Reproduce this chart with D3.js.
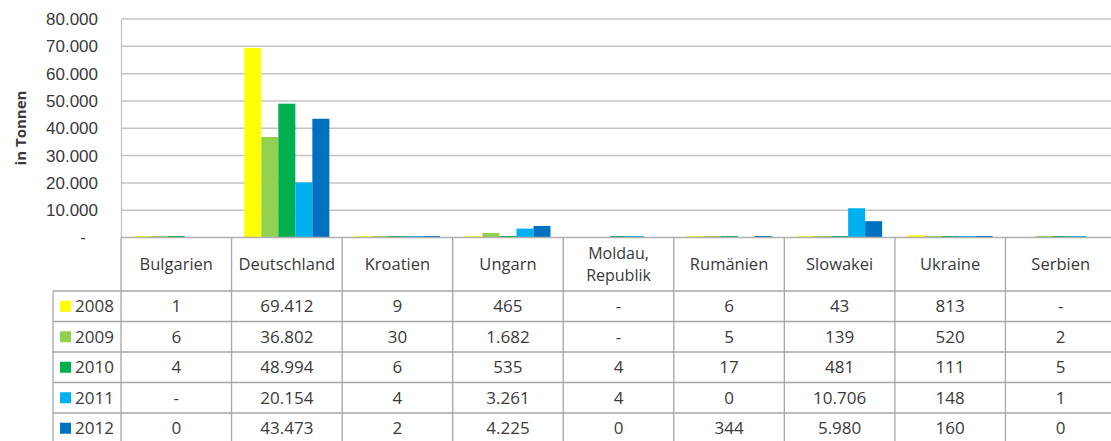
<!DOCTYPE html>
<html>
<head>
<meta charset="utf-8">
<script src="https://cdn.jsdelivr.net/npm/d3@7"></script>
<style>
  body { margin: 0; background: #fff; }
  svg { display: block; font-family: "Open Sans", sans-serif; }
  .grid line { stroke: #c4c4c4; stroke-width: 1.5; }
  .tbl line { stroke: #a6a6a6; stroke-width: 1.3; }
  text { fill: #3a3a3a; }
</style>
</head>
<body>
<svg id="chart" width="1111" height="441"></svg>
<script>
// Exporte nach Ländern, in Tonnen
var countries = ["Bulgarien", "Deutschland", "Kroatien", "Ungarn", "Moldau, Republik",
                 "Rumänien", "Slowakei", "Ukraine", "Serbien"];
var years = ["2008", "2009", "2010", "2011", "2012"];
var colors = ["#ffff00", "#92d050", "#00b050", "#00b0f0", "#0070c0"];
// null = "-"
var v2008 = [1, 69412, 9, 465, null, 6, 43, 813, null];
var v2009 = [6, 36802, 30, 1682, null, 5, 139, 520, 2];
var v2010 = [4, 48994, 6, 535, 4, 17, 481, 111, 5];
var v2011 = [null, 20154, 4, 3261, 4, 0, 10706, 148, 1];
var v2012 = [0, 43473, 2, 4225, 0, 344, 5980, 160, 0];
var yTicks = [0, 10000, 20000, 30000, 40000, 50000, 60000, 70000, 80000];

var series = [v2008, v2009, v2010, v2011, v2012];

var svg = d3.select("#chart");
var plotLeft = 121, plotRight = 1116, plotTop = 19, base = 237.5;
var headH = 53.5, rowH = 30.5, legLeft = 53;

var fmt = d3.formatLocale({decimal: ",", thousands: ".", grouping: [3], currency: ["", ""]}).format(",d");
function label(v) { return v === null ? "-" : fmt(v); }

var x0 = d3.scaleBand().domain(countries).range([plotLeft, plotRight]).paddingInner(0).paddingOuter(0);
var x1 = d3.scaleBand().domain(years).range([0, x0.bandwidth()]).paddingInner(0).paddingOuter(0.75);
var y = d3.scaleLinear().domain([0, 80000]).range([base, plotTop]);

// gridlines
svg.append("g").attr("class", "grid")
  .selectAll("line").data(yTicks.slice(1)).join("line")
  .attr("x1", plotLeft).attr("x2", plotRight)
  .attr("y1", function(d) { return y(d); }).attr("y2", function(d) { return y(d); });

// y axis
var yAxis = svg.append("g")
  .attr("transform", "translate(" + plotLeft + ",0)")
  .call(d3.axisLeft(y).tickValues(yTicks).tickSize(0).tickPadding(23)
    .tickFormat(function(d) { return d === 0 ? "-" : fmt(d); }));
yAxis.select(".domain").attr("stroke", "#c4c4c4").attr("stroke-width", 1.3);
yAxis.selectAll("text").style("font-size", "17px").attr("fill", "#3a3a3a")
  .attr("dx", function(d) { return d === 0 ? -12 : 0; });

svg.append("text")
  .attr("transform", "translate(26," + 128 + ") rotate(-90)")
  .attr("text-anchor", "middle")
  .style("font-size", "15px").style("font-weight", "bold")
  .attr("fill", "#262626")
  .text("in Tonnen");

// bars
var groups = svg.append("g").selectAll("g").data(series).join("g")
  .attr("fill", function(d, i) { return colors[i]; });
groups.selectAll("rect")
  .data(function(s, i) { return s.map(function(v, j) { return {c: countries[j], yr: years[i], v: v}; }); })
  .join("rect")
  .attr("x", function(d) { return x0(d.c) + x1(d.yr); })
  .attr("width", x1.bandwidth())
  .attr("y", function(d) { return Math.min(y(d.v || 0), base - (d.v > 0 ? 1.5 : 0)); })
  .attr("height", function(d) { return Math.max(base - y(d.v || 0), d.v > 0 ? 1.5 : 0); });

// baseline
svg.append("line").attr("x1", plotLeft).attr("x2", plotRight).attr("y1", base).attr("y2", base)
  .attr("stroke", "#b0b0b0").attr("stroke-width", 1.3);

// data table
var tbl = svg.append("g").attr("class", "tbl");
var rowsTop = base + headH;
var bottom = rowsTop + rowH * years.length;

// vertical lines at category boundaries
tbl.selectAll("line.v").data(countries).join("line").attr("class", "v")
  .attr("x1", function(d) { return x0(d); }).attr("x2", function(d) { return x0(d); })
  .attr("y1", base).attr("y2", bottom);
tbl.append("line").attr("x1", legLeft).attr("x2", legLeft).attr("y1", rowsTop).attr("y2", bottom);
// horizontal row lines
tbl.selectAll("line.h").data(d3.range(years.length + 1)).join("line").attr("class", "h")
  .attr("x1", legLeft).attr("x2", plotRight)
  .attr("y1", function(i) { return rowsTop + i * rowH; })
  .attr("y2", function(i) { return rowsTop + i * rowH; });

// header labels (two-word names wrap onto two lines)
var headLines = [];
countries.forEach(function(c) {
  var parts = c.split(" ");
  var mid = base + headH / 2;
  if (parts.length === 1) headLines.push({c: c, t: c, y: mid, fs: 16.5});
  else {
    headLines.push({c: c, t: parts[0], y: mid - 10.5, fs: 16});
    headLines.push({c: c, t: parts[1], y: mid + 11.5, fs: 16});
  }
});
svg.append("g").selectAll("text").data(headLines).join("text")
  .attr("x", function(d) { return x0(d.c) + x0.bandwidth() / 2; })
  .attr("y", function(d) { return d.y; })
  .attr("dy", "0.35em")
  .attr("text-anchor", "middle")
  .style("font-size", function(d) { return d.fs + "px"; })
  .text(function(d) { return d.t; });

// legend column
var leg = svg.append("g").selectAll("g").data(years).join("g")
  .attr("transform", function(d, i) { return "translate(" + legLeft + "," + (rowsTop + i * rowH) + ")"; });
leg.append("rect").attr("x", 7).attr("y", rowH / 2 - 5.5).attr("width", 11).attr("height", 11)
  .attr("fill", function(d, i) { return colors[i]; });
leg.append("text").attr("x", 22).attr("y", rowH / 2).attr("dy", "0.35em")
  .style("font-size", "17px").text(function(d) { return d; });

// values
series.forEach(function(s, i) {
  svg.append("g").selectAll("text").data(s).join("text")
    .attr("x", function(d, j) { return x0(countries[j]) + x0.bandwidth() / 2; })
    .attr("y", rowsTop + i * rowH + rowH / 2)
    .attr("dy", "0.35em")
    .attr("text-anchor", "middle")
    .style("font-size", "17px")
    .text(label);
});
</script>
</body>
</html>
